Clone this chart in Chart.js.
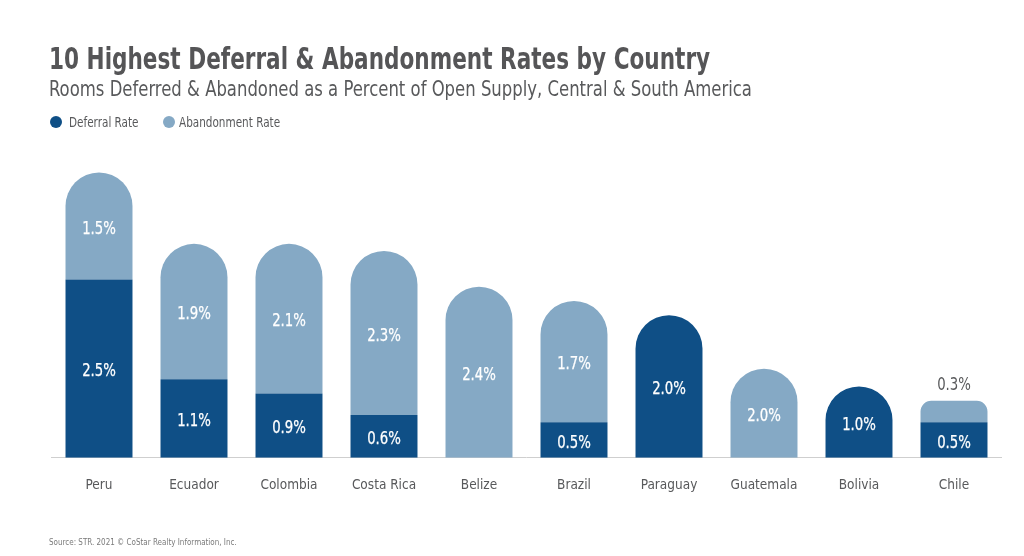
<!DOCTYPE html>
<html>
<head>
<meta charset="utf-8">
<script src="https://cdn.jsdelivr.net/npm/chart.js@4"></script>
<style>
  body { margin: 0; background: #fff; }
  .wrap { position: relative; width: 1024px; height: 556px; overflow: hidden;
          font-family: "DejaVu Sans Condensed", "DejaVu Sans", sans-serif; font-stretch: condensed; color: #555; }
  .wrap div.t { position: absolute; white-space: nowrap; line-height: 1; transform-origin: 0 0; }
  .title { left: 49px; top: 44px; font-size: 30px; font-weight: bold; color: #555557; transform: scaleX(0.80); }
  .subtitle { left: 49px; top: 79px; font-size: 21px; color: #58595b; transform: scaleX(0.872); }
  .leg { top: 115px; font-size: 14px; color: #58595b; transform: scaleX(0.83); }
  .dot { position: absolute; top: 116px; width: 12px; height: 12px; border-radius: 50%; }
  .source { left: 49px; top: 537px; font-size: 9.5px; color: #7a7a7a; transform: scaleX(0.84); }
  #chartBox { position: absolute; left: 0; top: 0; width: 1024px; height: 556px; }
</style>
</head>
<body>
<div class="wrap">
  <div id="chartBox"><canvas id="ratesChart"></canvas></div>
  <div class="t title">10 Highest Deferral &amp; Abandonment Rates by Country</div>
  <div class="t subtitle">Rooms Deferred &amp; Abandoned as a Percent of Open Supply, Central &amp; South America</div>
  <div class="dot" style="left:50px; background:#0f4f86"></div>
  <div class="t leg" style="left:69px">Deferral Rate</div>
  <div class="dot" style="left:163px; background:#85a9c5"></div>
  <div class="t leg" style="left:179px">Abandonment Rate</div>
  <div class="t source">Source: STR. 2021 © CoStar Realty Information, Inc.</div>
</div>
<script>
// dados
const paises = ["Peru", "Ecuador", "Colombia", "Costa Rica", "Belize", "Brazil", "Paraguay", "Guatemala", "Bolivia", "Chile"];
const taxaAdiamento = [2.5, 1.1, 0.9, 0.6, 0, 0.5, 2.0, 0, 1.0, 0.5];
// Guatemala: a barra desenhada tem ~1.2 de altura, mas o rótulo diz 2.0%
const taxaAbandono = [1.5, 1.9, 2.1, 2.3, 2.4, 1.7, 0, 1.25, 0, 0.3];
const rotulosAdiamento = ["2.5%", "1.1%", "0.9%", "0.6%", "", "0.5%", "2.0%", "", "1.0%", "0.5%"];
const rotulosAbandono = ["1.5%", "1.9%", "2.1%", "2.3%", "2.4%", "1.7%", "", "2.0%", "", "0.3%"];

const FONTE = '"DejaVu Sans Condensed", "DejaVu Sans", sans-serif';
const corEscura = "#0f4f86";
const corClara = "#85a9c5";

// plugin simples para os rótulos dentro das barras
const rotulosPlugin = {
  id: "rotulos",
  afterDatasetsDraw(chart) {
    const ctx = chart.ctx;
    const listas = [rotulosAdiamento, rotulosAbandono];
    ctx.save();
    ctx.font = "18px " + FONTE;
    ctx.textAlign = "center";
    ctx.textBaseline = "middle";
    ctx.lineWidth = 0.25;
    chart.data.datasets.forEach((ds, i) => {
      chart.getDatasetMeta(i).data.forEach((bar, j) => {
        const txt = listas[i][j];
        if (!txt) return;
        const h = bar.base - bar.y;
        const fora = h < 30;
        const y = fora ? bar.y - 15 : (bar.y + bar.base) / 2 + 3;
        ctx.save();
        ctx.translate(bar.x, y);
        ctx.scale(0.82, 1);
        if (fora) {
          ctx.fillStyle = "#58595b";
          ctx.fillText(txt, 0, 0);
        } else {
          ctx.fillStyle = "#ffffff";
          ctx.strokeStyle = "#ffffff";
          ctx.fillText(txt, 0, 0);
          ctx.strokeText(txt, 0, 0);
        }
        ctx.restore();
      });
    });
    ctx.restore();
  },
};

new Chart(document.getElementById("ratesChart"), {
  type: "bar",
  data: {
    labels: paises,
    datasets: [
      {
        label: "Deferral Rate",
        data: taxaAdiamento,
        backgroundColor: corEscura,
        borderRadius: 40,
        categoryPercentage: 1,
        barPercentage: 0.705,
      },
      {
        label: "Abandonment Rate",
        data: taxaAbandono,
        backgroundColor: corClara,
        borderRadius: 40,
        categoryPercentage: 1,
        barPercentage: 0.705,
      },
    ],
  },
  options: {
    responsive: true,
    maintainAspectRatio: false,
    animation: false,
    layout: { padding: { left: 51.5, right: 22.5, top: 144, bottom: 42 } },
    plugins: {
      legend: { display: false },
      tooltip: { enabled: false },
    },
    scales: {
      x: {
        stacked: true,
        grid: { display: false, drawTicks: false },
        border: { color: "#cfcfcf", width: 1 },
        ticks: { color: "#58595b", padding: 20, font: { family: FONTE, size: 13.5 } },
      },
      y: {
        stacked: true,
        display: false,
        min: 0,
        max: 4.4,
      },
    },
  },
  plugins: [rotulosPlugin],
});
</script>
</body>
</html>
